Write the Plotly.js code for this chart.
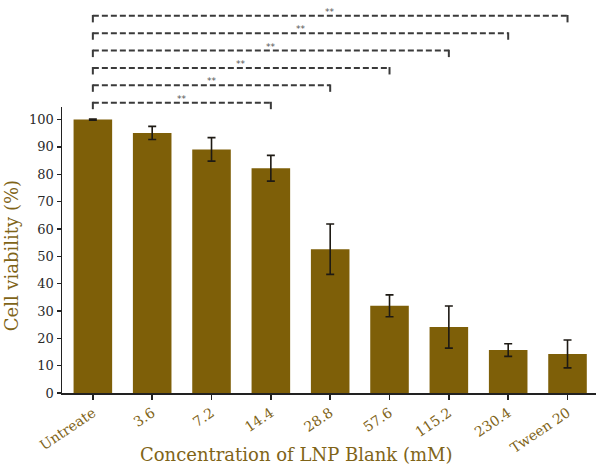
<!DOCTYPE html>
<html>
<head>
<meta charset="utf-8">
<script src="https://cdn.plot.ly/plotly-3.0.1.min.js"></script>
<style>
  html, body { margin: 0; padding: 0; background: #fff; }
  #chart { width: 603px; height: 466px; }
</style>
</head>
<body>
<div id="chart"></div>
<script>
// categorias (eje x)
var concentraciones = ['Untreate', '3.6', '7.2', '14.4', '28.8', '57.6', '115.2', '230.4', 'Tween 20'];
// viabilidad celular (%)
var viabilidad = [100, 95.1, 89.1, 82.2, 52.6, 31.9, 24.1, 15.7, 14.3];
// desviacion (barras de error)
var desviacion = [0.2, 2.4, 4.3, 4.7, 9.2, 4.0, 7.7, 2.3, 5.1];
// comparaciones contra el control
var comparaciones = ['14.4', '28.8', '57.6', '115.2', '230.4', 'Tween 20'];
var significancia = ['**', '**', '**', '**', '**', '**'];
var ticks_y = [0, 10, 20, 30, 40, 50, 60, 70, 80, 90, 100];

var CAFE = '#7e5f08';
var TEXTO = '#7f6418';
var y_tope = 104.6;

var shapes = [];
var anotaciones = [];
comparaciones.forEach(function(destino, i){
  var nivel = (106.2 + i * 6.35) / y_tope;
  var bajada = 2.4 / y_tope;
  var inicio = 0;
  var fin = concentraciones.indexOf(destino);
  var linea = {color: '#3a3a3a', width: 2};
  // linea horizontal punteada
  shapes.push({type: 'line', xref: 'x', yref: 'paper', x0: inicio, x1: fin,
    y0: nivel, y1: nivel, line: {color: '#3a3a3a', width: 2, dash: '6px,3px'}});
  // patitas de los extremos
  shapes.push({type: 'line', xref: 'x', yref: 'paper', x0: inicio, x1: inicio,
    y0: nivel + 0.003, y1: nivel - bajada, line: linea});
  shapes.push({type: 'line', xref: 'x', yref: 'paper', x0: fin, x1: fin,
    y0: nivel + 0.003, y1: nivel - bajada, line: linea});
  anotaciones.push({xref: 'x', yref: 'paper', x: (inicio + fin) / 2, y: nivel, yanchor: 'bottom', yshift: -3,
    text: significancia[i], showarrow: false, font: {family: 'DejaVu Sans', size: 9, color: '#555'}});
});

// titulos de los ejes como anotaciones (para ubicarlos como en la figura)
anotaciones.push({xref: 'paper', yref: 'paper', x: 0.438, y: -0.215, yanchor: 'middle', xanchor: 'center',
  text: 'Concentration of LNP Blank (mM)', showarrow: false,
  font: {family: 'DejaVu Serif', size: 18, color: TEXTO}});
anotaciones.push({xref: 'paper', yref: 'paper', x: 0, xshift: -51, y: 0.478, yanchor: 'middle', xanchor: 'center',
  textangle: -90, text: 'Cell viability (%)', showarrow: false,
  font: {family: 'DejaVu Serif', size: 18, color: TEXTO}});

var barras = {
  type: 'bar',
  x: concentraciones,
  y: viabilidad,
  marker: {color: CAFE},
  width: 0.65,
  error_y: {type: 'data', array: desviacion, visible: true, color: '#1e1a14', thickness: 1.6, width: 4}
};

var layout = {
  width: 603,
  height: 466,
  margin: {l: 62, r: 7, t: 107, b: 73},
  paper_bgcolor: '#fff',
  plot_bgcolor: '#fff',
  showlegend: false,
  font: {family: 'DejaVu Serif', color: TEXTO},
  xaxis: {
    type: 'category',
    range: [-0.52, 8.48],
    tickangle: -34,
    ticks: 'outside', ticklen: 5, tickwidth: 1.5, tickcolor: '#222',
    showline: true, linecolor: '#222', linewidth: 1.5,
    tickfont: {family: 'DejaVu Serif', size: 14, color: TEXTO},
    showgrid: false, zeroline: false, fixedrange: true
  },
  yaxis: {
    range: [0, y_tope],
    tickvals: ticks_y,
    ticks: 'outside', ticklen: 4, tickwidth: 1.5, tickcolor: '#222',
    showline: true, linecolor: '#222', linewidth: 1.5,
    tickfont: {family: 'DejaVu Serif', size: 13, color: '#2a2a2a'},
    showgrid: false, zeroline: false, fixedrange: true
  },
  shapes: shapes,
  annotations: anotaciones
};

Plotly.newPlot('chart', [barras], layout, {displayModeBar: false, staticPlot: true});
</script>
</body>
</html>
